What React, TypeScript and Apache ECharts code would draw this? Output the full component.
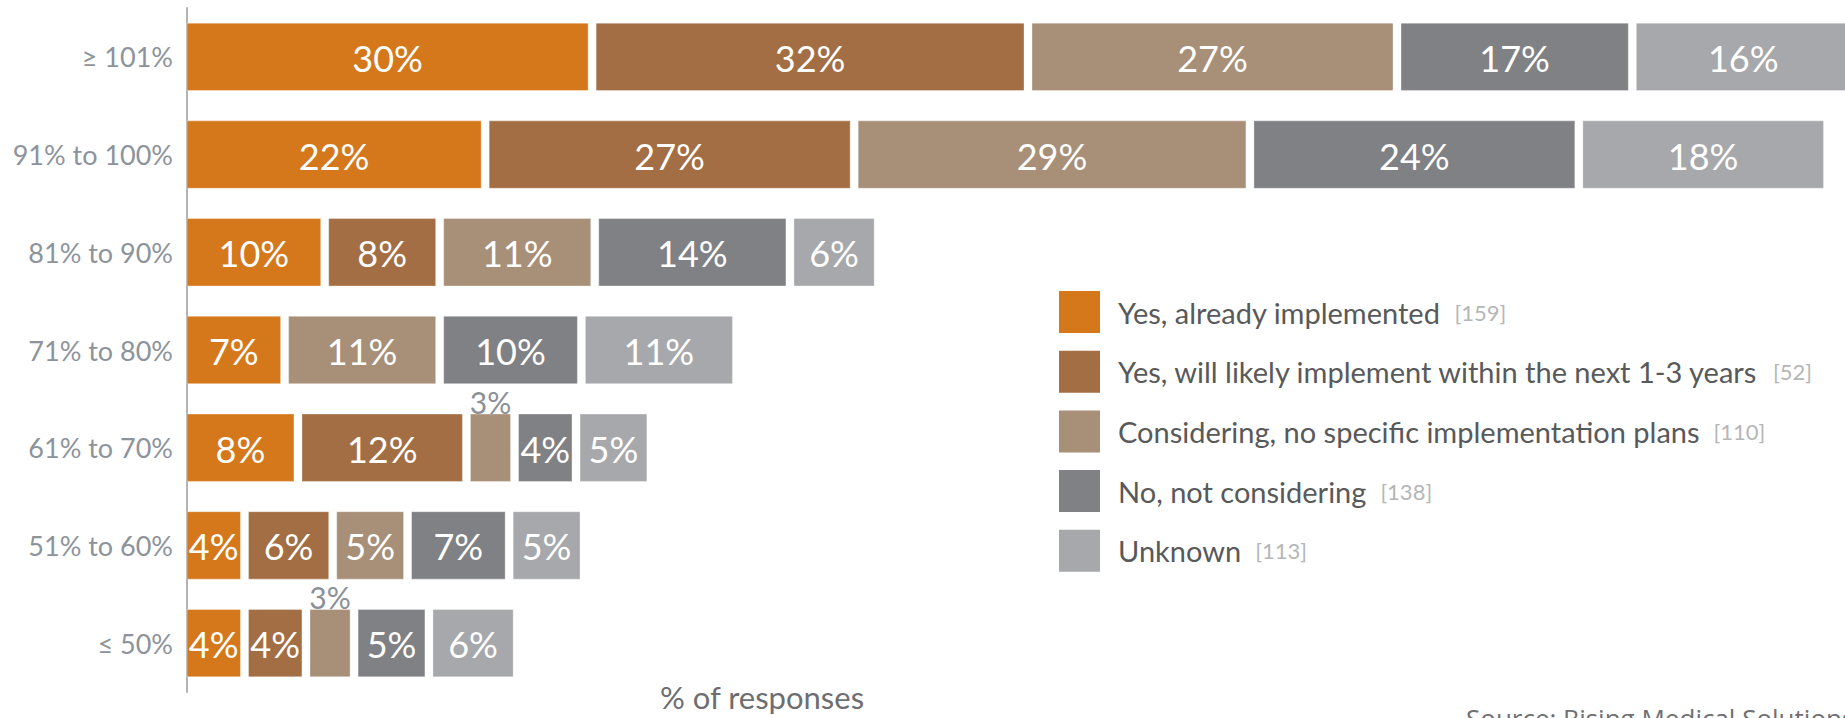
import React, { useEffect, useRef } from "react";
import * as echarts from "echarts";

const categories = ["≥ 101%", "91% to 100%", "81% to 90%", "71% to 80%", "61% to 70%", "51% to 60%", "≤ 50%"];
const seriesNames = [
  "Yes, already implemented",
  "Yes, will likely implement within the next 1-3 years",
  "Considering, no specific implementation plans",
  "No, not considering",
  "Unknown",
];
const responseCounts = [159, 52, 110, 138, 113];
const alreadyImplemented = [30, 22, 10, 7, 8, 4, 4];
const likelyImplement = [32, 27, 8, 0, 12, 6, 4];
const considering = [27, 29, 11, 11, 3, 5, 3];
const notConsidering = [17, 24, 14, 10, 4, 7, 5];
const unknown = [16, 18, 6, 11, 5, 5, 6];
const colors = ["#d5781b", "#a36e43", "#a88f77", "#808184", "#a7a8ab"];

const allValues = [alreadyImplemented, likelyImplement, considering, notConsidering, unknown];
const GAP = 8;
const BAR_RATIO = 0.69;
const FONT = "Lato, 'Open Sans', sans-serif";

function buildData(idx: number) {
  return categories.map((_, ci) => {
    let start = 0;
    let gaps = 0;
    for (let k = 0; k < idx; k++) {
      const v = allValues[k][ci];
      if (v > 0) {
        start += v;
        gaps++;
      }
    }
    return [allValues[idx][ci], ci, start, gaps];
  });
}

export default function App() {
  const ref = useRef<HTMLDivElement>(null);
  useEffect(() => {
    document.body.style.margin = "0";
    const chart = echarts.init(ref.current!, null, { renderer: "svg" });
    const renderItem = (params: any, api: any) => {
      const v = api.value(0);
      if (!v) return null;
      const ci = api.value(1);
      const start = api.value(2);
      const gaps = api.value(3);
      const p0 = api.coord([start, ci]);
      const p1 = api.coord([start + v, ci]);
      const band = api.size([0, 1])[1];
      const h = band * BAR_RATIO;
      const x = p0[0] + gaps * GAP;
      const w = p1[0] - p0[0];
      const y = p0[1] - h / 2;
      const color = api.visual("color");
      const inside = v >= 4;
      return {
        type: "group",
        children: [
          { type: "rect", shape: { x, y, width: w, height: h }, style: { fill: color, stroke: "rgba(255,255,255,0.35)", lineWidth: 1 } },
          {
            type: "text",
            style: inside
              ? {
                  text: v + "%",
                  x: x + w / 2,
                  y: p0[1] + 1,
                  align: "center",
                  verticalAlign: "middle",
                  textAlign: "center",
                  textVerticalAlign: "middle",
                  fill: "#ffffff",
                  fontSize: 36,
                  fontFamily: FONT,
                }
              : {
                  text: v + "%",
                  x: x + w / 2,
                  y: y + 3,
                  align: "center",
                  verticalAlign: "bottom",
                  textAlign: "center",
                  textVerticalAlign: "bottom",
                  fill: "#8b9098",
                  fontSize: 30,
                  fontFamily: FONT,
                },
          },
        ],
      };
    };
    chart.setOption({
      animation: false,
      grid: { left: 187, top: 8, width: 1661.6, height: 684 },
      xAxis: { type: "value", min: 0, max: 124, show: false },
      yAxis: {
        type: "category",
        data: categories,
        inverse: true,
        axisLine: { show: true, lineStyle: { color: "#b3b3b3", width: 2 } },
        axisTick: { show: false },
        axisLabel: { fontSize: 27, color: "#8d939b", margin: 14, fontFamily: FONT },
      },
      legend: {
        orient: "vertical",
        left: 1054,
        top: 286,
        itemWidth: 41,
        itemHeight: 42,
        itemGap: 17.7,
        icon: "rect",
        selectedMode: false,
        data: seriesNames,
        formatter: (name: string) => {
          const i = seriesNames.indexOf(name);
          return `{n|${name}}{c|[${responseCounts[i]}]}`;
        },
        textStyle: {
          rich: {
            n: { fontSize: 29, color: "#58595b", fontFamily: FONT, padding: [0, 14, 0, 13] },
            c: { fontSize: 22, color: "#b5b6b8", fontFamily: FONT },
          },
        },
      },
      series: seriesNames.map((name, idx) => ({
        type: "custom",
        name,
        itemStyle: { color: colors[idx] },
        encode: { x: 0, y: 1 },
        renderItem,
        data: buildData(idx),
      })),
      graphic: [
        {
          type: "text",
          x: 762,
          y: 697,
          style: {
            text: "% of responses",
            fontSize: 31,
            fill: "#6d6e72",
            fontFamily: FONT,
            textAlign: "center",
            textVerticalAlign: "middle",
            align: "center",
            verticalAlign: "middle",
          },
        },
        {
          type: "text",
          left: 1466,
          top: 705,
          style: { text: "Source: Rising Medical Solutions", fontSize: 26, fill: "#707173", fontFamily: "'Open Sans', sans-serif" },
        },
      ],
    });
    return () => chart.dispose();
  }, []);
  return <div ref={ref} style={{ width: 1845, height: 718 }} />;
}
